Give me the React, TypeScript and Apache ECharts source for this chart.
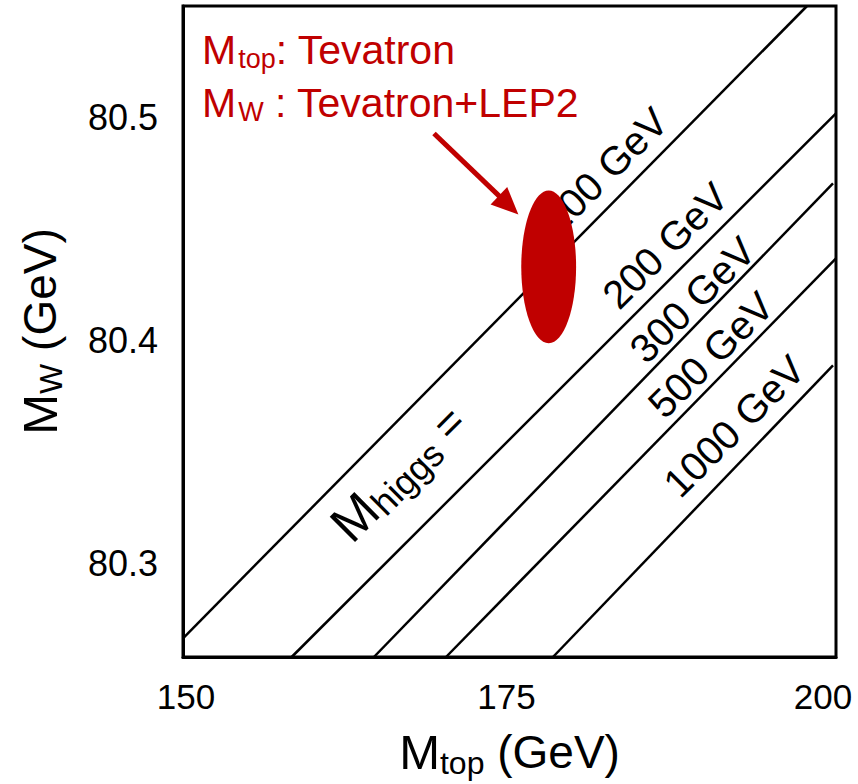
import React, { useEffect, useRef } from "react";
import * as echarts from "echarts";

// Axis ticks
const xTicks = [150, 175, 200];
const yTicks = [80.3, 80.4, 80.5];

// Higgs-mass iso-lines: start and end points (Mtop [GeV], MW [GeV])
const higgsMasses = ["100", "200", "300", "500", "1000"];
const lineStartMtop = [150, 158.32, 164.62, 170.14, 178.33];
const lineStartMw = [80.2664, 80.258, 80.258, 80.258, 80.258];
const lineEndMtop = [197.78, 200, 199.77, 200, 199.77];
const lineEndMw = [80.55, 80.5018, 80.4704, 80.4368, 80.3888];

// Label anchor points for the iso-lines (data coordinates)
const labelMtop = [182.31, 186.91, 189.0, 190.4, 192.2];
const labelMw = [80.4762, 80.4426, 80.4182, 80.3935, 80.3615];
const higgsPrefixAnchor = [166.5, 80.3405];

// Measurement ellipse: centre and half-widths
const ellipseCenter = [178.0, 80.433];
const ellipseHalfWidth = [2.1, 0.0343];

// Arrow from annotation to ellipse
const arrowFrom = [169.22, 80.4928];
const arrowTo = [175.68, 80.4565];

export default function App() {
  const ref = useRef<HTMLDivElement>(null);

  useEffect(() => {
    document.documentElement.style.margin = "0";
    document.documentElement.style.overflow = "hidden";
    document.body.style.margin = "0";
    document.body.style.overflow = "hidden";
    const chart = echarts.init(ref.current as HTMLDivElement, null, {
      renderer: "svg",
      width: 858,
      height: 784,
    });
    const font = "'Liberation Sans', Arial, Helvetica, sans-serif";
    const red = "#C00000";

    const lineSeries = higgsMasses.map((m, i) => ({
      type: "line",
      name: m + " GeV",
      data: [
        [lineStartMtop[i], lineStartMw[i]],
        [lineEndMtop[i], lineEndMw[i]],
      ],
      symbol: "none",
      silent: true,
      z: 2,
      lineStyle: { color: "#000", width: 2.5 },
    }));

    const titleRich = {
      m: { fontSize: 49, lineHeight: 54, fontFamily: font, color: "#000" },
      s: { fontSize: 32, lineHeight: 30, verticalAlign: "bottom", fontFamily: font, color: "#000" },
      t: { fontSize: 46, lineHeight: 54, fontFamily: font, color: "#000" },
    };

    const redRich = {
      m: { fontSize: 41, lineHeight: 46, fontFamily: font, fill: red, padding: [0, 2, 0, 0] },
      s: { fontSize: 27, lineHeight: 24, verticalAlign: "bottom", fontFamily: font, fill: red },
      t: { fontSize: 41, lineHeight: 46, fontFamily: font, fill: red },
    };

    const option: any = {
      animation: false,
      backgroundColor: "#fff",
      grid: {
        left: 183,
        right: 22,
        top: 6,
        bottom: 127,
        containLabel: false,
        outerBoundsMode: "none",
        show: true,
        borderColor: "#000",
        borderWidth: 3,
        backgroundColor: "transparent",
      },
      xAxis: {
        type: "value",
        min: 150,
        max: 200,
        interval: 25,
        name: "{m|M}{s|top}{t| (GeV)}",
        nameLocation: "middle",
        nameGap: 68,
        nameTextStyle: { fontFamily: font, color: "#000", rich: titleRich },
        axisLine: { show: true, lineStyle: { color: "#000", width: 3 } },
        axisTick: { show: false },
        splitLine: { show: false },
        axisLabel: {
          margin: 22,
          color: "#000",
          fontFamily: font,
          fontSize: 35,
          customValues: xTicks,
          formatter: (v: number) =>
            v === 200 ? "{r|200}" : v === 150 ? "{l|150}" : "{c|" + v + "}",
          rich: {
            r: { fontSize: 35, fontFamily: font, color: "#000", padding: [0, 26, 0, 0] },
            l: { fontSize: 35, fontFamily: font, color: "#000", padding: [0, 0, 0, 6] },
            c: { fontSize: 35, fontFamily: font, color: "#000", padding: [0, 0, 0, -6] },
          },
        },
      },
      yAxis: {
        type: "value",
        min: 80.258,
        max: 80.55,
        name: "{m|M}{s|W}{t| (GeV)}",
        nameLocation: "middle",
        nameGap: 116,
        nameRotate: 90,
        nameTextStyle: { fontFamily: font, color: "#000", rich: titleRich },
        axisLine: { show: true, lineStyle: { color: "#000", width: 3 } },
        axisTick: { show: false },
        splitLine: { show: false },
        axisLabel: {
          margin: 25,
          color: "#000",
          fontFamily: font,
          fontSize: 36,
          customValues: yTicks,
          formatter: (v: number) => v.toFixed(1),
        },
      },
      series: [
        ...lineSeries,
        {
          type: "custom",
          name: "line labels",
          z: 3,
          silent: true,
          data: labelMtop.map((x, i) => [x, labelMw[i]]),
          encode: { x: 0, y: 1 },
          renderItem: (params: any, api: any) => {
            const p = api.coord([api.value(0), api.value(1)]);
            return {
              type: "text",
              x: p[0],
              y: p[1],
              rotation: Math.PI / 4,
              style: {
                text: higgsMasses[params.dataIndex] + " GeV",
                fontSize: 40,
                fontFamily: font,
                fill: "#000",
                align: "center",
                verticalAlign: "middle",
              },
            };
          },
        },
        {
          type: "custom",
          name: "higgs prefix",
          z: 3,
          silent: true,
          data: [higgsPrefixAnchor],
          encode: { x: 0, y: 1 },
          renderItem: (params: any, api: any) => {
            const p = api.coord([api.value(0), api.value(1)]);
            return {
              type: "text",
              x: p[0],
              y: p[1],
              rotation: Math.PI / 4,
              style: {
                text: "{m|M}{s|higgs}{e| =}",
                align: "center",
                verticalAlign: "middle",
                fill: "#000",
                fontFamily: font,
                rich: {
                  m: { fontSize: 52, lineHeight: 56, fontFamily: font, fill: "#000" },
                  s: { fontSize: 36, lineHeight: 32, verticalAlign: "bottom", fontFamily: font, fill: "#000" },
                  e: { fontSize: 44, lineHeight: 56, fontFamily: font, fill: "#000" },
                },
              },
            };
          },
        },
        {
          type: "custom",
          name: "Tevatron + LEP2",
          z: 4,
          silent: true,
          data: [[ellipseCenter[0], ellipseCenter[1], ellipseHalfWidth[0], ellipseHalfWidth[1]]],
          encode: { x: 0, y: 1 },
          renderItem: (params: any, api: any) => {
            const c = api.coord([api.value(0), api.value(1)]);
            const s = api.size([api.value(2), api.value(3)]);
            return {
              type: "ellipse",
              shape: { cx: c[0], cy: c[1], rx: s[0], ry: s[1] },
              style: { fill: red, stroke: "none" },
            };
          },
        },
        {
          type: "custom",
          name: "arrow",
          z: 5,
          silent: true,
          data: [[arrowFrom[0], arrowFrom[1], arrowTo[0], arrowTo[1]]],
          encode: { x: [0, 2], y: [1, 3] },
          renderItem: (params: any, api: any) => {
            const a = api.coord([api.value(0), api.value(1)]);
            const b = api.coord([api.value(2), api.value(3)]);
            const dx = b[0] - a[0];
            const dy = b[1] - a[1];
            const len = Math.sqrt(dx * dx + dy * dy);
            const ux = dx / len;
            const uy = dy / len;
            const headLen = 27;
            const headHalf = 12;
            const bx = b[0] - ux * headLen;
            const by = b[1] - uy * headLen;
            return {
              type: "group",
              children: [
                {
                  type: "line",
                  shape: { x1: a[0], y1: a[1], x2: bx + ux * 2, y2: by + uy * 2 },
                  style: { stroke: red, lineWidth: 5 },
                },
                {
                  type: "polygon",
                  shape: {
                    points: [
                      [b[0], b[1]],
                      [bx - uy * headHalf, by + ux * headHalf],
                      [bx + uy * headHalf, by - ux * headHalf],
                    ],
                  },
                  style: { fill: red },
                },
              ],
            };
          },
        },
      ],
      graphic: [
        {
          type: "text",
          left: 202,
          top: 29,
          z: 10,
          style: { text: "{m|M}{s|top}{t|: Tevatron}", fill: red, fontFamily: font, rich: redRich },
        },
        {
          type: "text",
          left: 202,
          top: 82,
          z: 10,
          style: { text: "{m|M}{s|W}{t| : Tevatron+LEP2}", fill: red, fontFamily: font, rich: redRich },
        },
      ],
    };

    chart.setOption(option);
    return () => {
      chart.dispose();
    };
  }, []);

  return (
    <div
      ref={ref}
      style={{ position: "absolute", left: 0, top: 0, width: 858, height: 784 }}
    />
  );
}
